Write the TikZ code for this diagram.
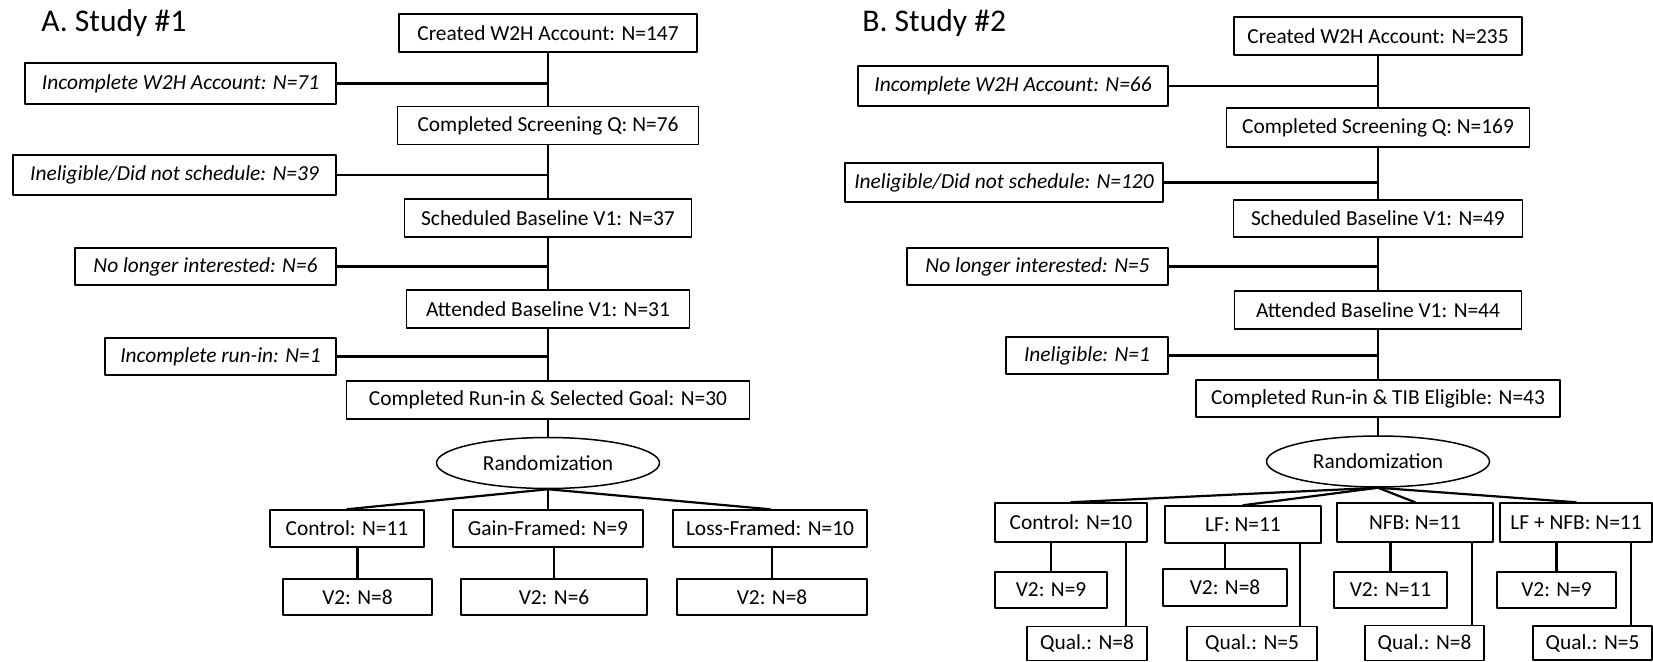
\documentclass[tikz,border=0pt]{standalone}
\usepackage{amsmath}
\usepackage[usenames]{xcolor}
\usepackage{fontspec}
\setmainfont{Carlito}
\usepackage{tikz}
\usetikzlibrary{arrows,shapes.geometric}

\begin{document}
\begin{tikzpicture}[line cap=round,line join=round,x=0.5pt,y=-0.5pt,
  box/.style={draw,line width=0.75pt,inner sep=0pt,minimum width=#1,minimum height=19pt,font=\fontsize{10.7}{12}\selectfont},
  excl/.style={box=#1,font=\fontsize{10.7}{12}\selectfont\itshape},
  rand/.style={draw,ellipse,line width=0.75pt,inner sep=0pt,minimum width=111.5pt,minimum height=25.5pt,font=\fontsize{10.7}{12}\selectfont},
  title/.style={anchor=west,inner sep=0pt,font=\fontsize{15.8}{18}\selectfont},
  link/.style={line width=1.1pt}]
\useasboundingbox (0,0) rectangle (1653,662);
\node[title] (ta) at (41,23) {A. Study \#1};
\node[box=149pt] (a1) at (548,33) {Created W2H Account: N=147};
\node[box=150.5pt] (a2) at (548,125.5) {Completed Screening Q: N=76};
\node[box=143.5pt] (a3) at (548,218) {Scheduled Baseline V1: N=37};
\node[box=141.5pt] (a4) at (548,309) {Attended Baseline V1: N=31};
\node[box=201.5pt] (a5) at (548,400) {Completed Run-in \& Selected Goal: N=30};
\node[rand] (ra) at (548,463) {Randomization};
\node[excl=155.5pt,minimum height=20.5pt] (e1) at (180.5,83.5) {Incomplete W2H Account: N=71};
\node[excl=161.5pt,minimum height=20pt] (e2) at (174.5,175) {Ineligible/Did not schedule: N=39};
\node[excl=130.5pt,minimum height=18.5pt] (e3) at (205.5,266.5) {No longer interested: N=6};
\node[excl=115.5pt,minimum height=18.5pt] (e4) at (220.5,356.5) {Incomplete run-in: N=1};
\node[box=77pt,minimum height=18.5pt] (c1) at (347,528.5) {Control: N=11};
\node[box=95pt,minimum height=18.5pt] (c2) at (548,528.5) {Gain-Framed: N=9};
\node[box=97pt,minimum height=18.5pt] (c3) at (770,528.5) {Loss-Framed: N=10};
\node[box=74.5pt,minimum height=18pt] (v1) at (357.5,597) {V2: N=8};
\node[box=93pt,minimum height=18pt] (v2) at (554,597) {V2: N=6};
\node[box=95pt,minimum height=18pt] (v3) at (772,597) {V2: N=8};
\draw[link] (a1) -- (a2);
\draw[link] (a2) -- (a3);
\draw[link] (a3) -- (a4);
\draw[link] (a4) -- (a5);
\draw[link] (a5) -- (ra);
\draw[link] (e1.east) -- (e1.east -| a1.south);
\draw[link] (e2.east) -- (e2.east -| a1.south);
\draw[link] (e3.east) -- (e3.east -| a1.south);
\draw[link] (e4.east) -- (e4.east -| a1.south);
\draw[link] (ra.south) -- (c1.north);
\draw[link] (ra.south) -- (c2.north);
\draw[link] (ra.south) -- (c3.north);
\draw[link] (v1.north) -- (v1.north |- c1.south);
\draw[link] (v2.north) -- (v2.north |- c2.south);
\draw[link] (v3.north) -- (v3.north |- c3.south);
\node[title] (tb) at (862,23) {B. Study \#2};
\node[box=144pt] (b1) at (1378,36) {Created W2H Account: N=235};
\node[box=151.5pt,minimum height=19.5pt] (b2) at (1378,127.5) {Completed Screening Q: N=169};
\node[box=144.5pt,minimum height=18.5pt] (b3) at (1378,218.5) {Scheduled Baseline V1: N=49};
\node[box=143.5pt] (b4) at (1378,310) {Attended Baseline V1: N=44};
\node[box=182pt,minimum height=18.5pt] (b5) at (1378,398.5) {Completed Run-in \& TIB Eligible: N=43};
\node[rand] (rb) at (1378,461.5) {Randomization};
\node[excl=155pt,minimum height=20pt] (f1) at (1013,86) {Incomplete W2H Account: N=66};
\node[excl=159pt,minimum height=19.5pt] (f2) at (1004,182.5) {Ineligible/Did not schedule: N=120};
\node[excl=130.5pt,minimum height=18.5pt] (f3) at (1037.5,266.5) {No longer interested: N=5};
\node[excl=81pt,minimum height=18.5pt] (f4) at (1087,355.5) {Ineligible: N=1};
\node[box=76pt,minimum height=19.5pt] (d1) at (1071,522.5) {Control: N=10};
\node[box=78pt,minimum height=18.5pt] (d2) at (1243,524.5) {LF: N=11};
\node[box=78pt,minimum height=19.5pt] (d3) at (1415,522.5) {NFB: N=11};
\node[box=76pt,minimum height=19.5pt] (d4) at (1576,522.5) {LF + NFB: N=11};
\node[box=56pt,minimum height=18pt] (w1) at (1051,590) {V2: N=9};
\node[box=62pt,minimum height=18.5pt] (w2) at (1225,587.5) {V2: N=8};
\node[box=56.5pt,minimum height=18pt] (w3) at (1390.5,590) {V2: N=11};
\node[box=59.5pt,minimum height=18pt] (w4) at (1556.5,590) {V2: N=9};
\node[box=60pt,minimum height=17pt] (q1) at (1087,643.5) {Qual.: N=8};
\node[box=65pt,minimum height=17pt] (q2) at (1252,643.5) {Qual.: N=5};
\node[box=59.5pt,minimum height=17.5pt] (q3) at (1424.5,643) {Qual.: N=8};
\node[box=59.5pt,minimum height=17pt] (q4) at (1592.5,643) {Qual.: N=5};
\draw[link] (b1) -- (b2);
\draw[link] (b2) -- (b3);
\draw[link] (b3) -- (b4);
\draw[link] (b4) -- (b5);
\draw[link] (b5) -- (rb);
\draw[link] (f1.east) -- (f1.east -| b1.south);
\draw[link] (f2.east) -- (f2.east -| b1.south);
\draw[link] (f3.east) -- (f3.east -| b1.south);
\draw[link] (f4.east) -- (f4.east -| b1.south);
\draw[link] (rb.south) -- (d1.north);
\draw[link] (rb.south) -- (d2.north);
\draw[link] (rb.south) -- (d3.north);
\draw[link] (rb.south) -- (d4.north);
\draw[link] (w1.north) -- (w1.north |- d1.south);
\draw[link] (w2.north) -- (w2.north |- d2.south);
\draw[link] (w3.north) -- (w3.north |- d3.south);
\draw[link] (w4.north) -- (w4.north |- d4.south);
\draw[link] ([xshift=-11pt]d1.south east) -- ([xshift=-11pt]d1.south east |- q1.north);
\draw[link] ([xshift=-11pt]d2.south east) -- ([xshift=-11pt]d2.south east |- q2.north);
\draw[link] ([xshift=-11pt]d3.south east) -- ([xshift=-11pt]d3.south east |- q3.north);
\draw[link] ([xshift=-11pt]d4.south east) -- ([xshift=-11pt]d4.south east |- q4.north);
\end{tikzpicture}
\end{document}
